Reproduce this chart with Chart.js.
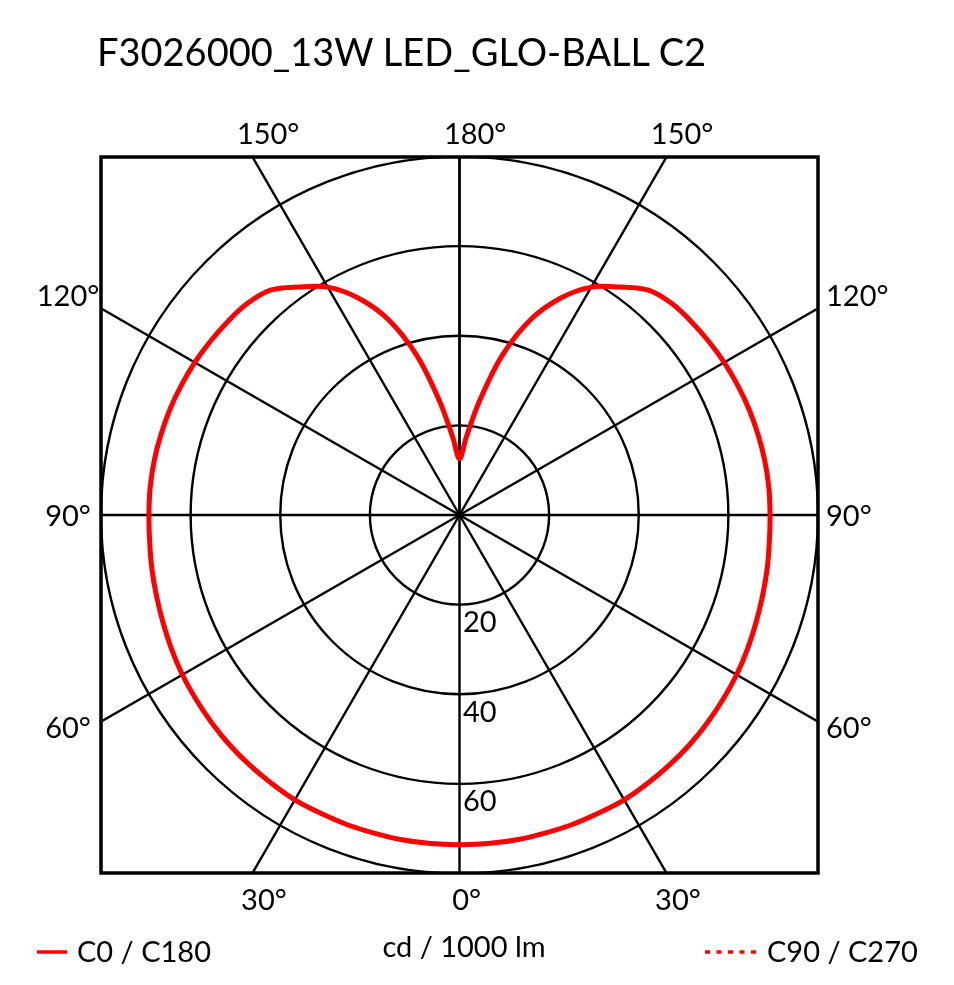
<!DOCTYPE html>
<html>
<head>
<meta charset="utf-8">
<script src="https://cdn.jsdelivr.net/npm/chart.js@4.4.1/dist/chart.umd.min.js"></script>
<style>
  html, body { margin: 0; padding: 0; background: #fff; }
  #wrap { position: relative; width: 954px; height: 985px; font-family: Lato, "Noto Sans", sans-serif; color: #000; }
  #chart { position: absolute; left: 0; top: 0; }
  .txt { position: absolute; white-space: nowrap; line-height: 1; }
</style>
</head>
<body>
<div id="wrap">
  <canvas id="chart" width="954" height="985"></canvas>
  <div class="txt" id="title" style="left:97px; top:32px; font-size:38px;">F3026000_13W LED_GLO-BALL C2</div>
  <div class="txt" style="left:77px; top:936px; font-size:29px;">C0 / C180</div>
  <div class="txt" style="left:464px; top:931px; font-size:29px; transform:translateX(-50%);">cd / 1000 lm</div>
  <div class="txt" style="left:767px; top:936px; font-size:29px;">C90 / C270</div>
</div>
<script>
// ── DATA ─────────────────────────────────────────────────────
// gamma angles (deg, 0 = straight down) and intensities in cd/1000 lm
const gamma = [0, 5, 10, 15, 20, 25, 30, 35, 40, 45, 50, 55, 60, 65, 70, 75, 80, 85, 90,
               95, 100, 105, 110, 115, 120, 125, 130, 135, 140, 145, 150, 155, 160, 165, 170, 175, 180];
const c0   = [73.7, 73.7, 73.7, 73.6, 73.6, 73.5, 73.5, 73.2, 72.9, 72.6, 72.2, 71.8, 71.4, 70.9, 70.4, 70.0, 69.7, 69.4, 69.3,
              69.3, 69.2, 69.0, 68.8, 68.5, 68.2, 67.8, 67.4, 66.9, 65.6, 62.2, 58.8, 53.5, 46.5, 37.0, 26.0, 17.5, 12.6];
const c180 = [73.7, 73.7, 73.7, 73.6, 73.6, 73.5, 73.5, 73.2, 72.9, 72.6, 72.2, 71.8, 71.4, 70.9, 70.4, 70.0, 69.7, 69.4, 69.3,
              69.3, 69.2, 69.0, 68.8, 68.5, 68.2, 67.8, 67.4, 66.9, 65.6, 62.2, 58.8, 53.5, 46.5, 37.0, 26.0, 17.5, 12.6];
// C90 / C270 lies under the C0 / C180 curve in the picture
const c90  = c0.slice();
const c270 = c180.slice();

const ringValues  = [20, 40, 60, 80];
const ringLabels  = ['20', '40', '60'];
const spokeAngles = [0, 30, 60, 90, 120, 150, 180];
const RANGE = 80;

const RED = '#ff0000';

// ── polar -> cartesian (right half = first plane, left half = opposite plane) ──
function planePoints(right, left) {
  const pts = [];
  const rad = d => d * Math.PI / 180;
  for (let i = 0; i < gamma.length; i++) {
    pts.push({ x: right[i] * Math.sin(rad(gamma[i])), y: -right[i] * Math.cos(rad(gamma[i])) });
  }
  for (let i = gamma.length - 2; i >= 0; i--) {
    pts.push({ x: -left[i] * Math.sin(rad(gamma[i])), y: -left[i] * Math.cos(rad(gamma[i])) });
  }
  return pts;
}

// ── polar grid, frame and angle labels ──────────────────────
const polarGrid = {
  id: 'polarGrid',
  beforeDatasetsDraw(chart) {
    const { ctx, chartArea: a, scales: { x, y } } = chart;
    const cx = x.getPixelForValue(0), cy = y.getPixelForValue(0);
    ctx.save();
    ctx.beginPath();
    ctx.rect(a.left, a.top, a.right - a.left, a.bottom - a.top);
    ctx.clip();
    ctx.strokeStyle = '#000';
    ctx.lineWidth = 2.4;

    ringValues.forEach(v => {
      const r = x.getPixelForValue(v) - cx;
      ctx.beginPath();
      ctx.arc(cx, cy, r, 0, Math.PI * 2);
      ctx.stroke();
    });

    const seen = new Set();
    spokeAngles.forEach(g => {
      [1, -1].forEach(side => {
        const px = x.getPixelForValue(side * 300 * Math.sin(g * Math.PI / 180));
        const py = y.getPixelForValue(-300 * Math.cos(g * Math.PI / 180));
        const key = Math.round(px) + ',' + Math.round(py);
        if (seen.has(key)) return;
        seen.add(key);
        ctx.beginPath();
        ctx.moveTo(cx, cy);
        ctx.lineTo(px, py);
        ctx.stroke();
      });
    });
    ctx.restore();

    // ring values
    ctx.save();
    ctx.fillStyle = '#000';
    ctx.font = '29px Lato';
    ctx.textAlign = 'left';
    ctx.textBaseline = 'alphabetic';
    ringLabels.forEach((t, i) => {
      const py = y.getPixelForValue(-ringValues[i]);
      ctx.fillText(t, cx + 3.5, py + 27.5);
    });
    ctx.restore();
  },
  afterDraw(chart) {
    const { ctx, chartArea: a, scales: { x, y } } = chart;
    const cx = x.getPixelForValue(0), cy = y.getPixelForValue(0);

    // frame
    ctx.save();
    ctx.strokeStyle = '#000';
    ctx.lineWidth = 3.5;
    ctx.strokeRect(a.left, a.top, a.right - a.left, a.bottom - a.top);

    // angle labels where the spokes hit the frame
    ctx.fillStyle = '#000';
    ctx.font = '29px Lato';
    ctx.textBaseline = 'alphabetic';
    const done = new Set();
    spokeAngles.forEach(g => {
      [1, -1].forEach(side => {
        const dx = x.getPixelForValue(side * Math.sin(g * Math.PI / 180)) - cx;
        const dy = y.getPixelForValue(-Math.cos(g * Math.PI / 180)) - cy;
        let t = Infinity, edge = '';
        if (dx > 1e-6)  { const tt = (a.right - cx) / dx;  if (tt < t) { t = tt; edge = 'right'; } }
        if (dx < -1e-6) { const tt = (a.left - cx) / dx;   if (tt < t) { t = tt; edge = 'left'; } }
        if (dy > 1e-6)  { const tt = (a.bottom - cy) / dy; if (tt < t) { t = tt; edge = 'bottom'; } }
        if (dy < -1e-6) { const tt = (a.top - cy) / dy;    if (tt < t) { t = tt; edge = 'top'; } }
        const ix = cx + dx * t, iy = cy + dy * t;
        const key = Math.round(ix) + ',' + Math.round(iy);
        if (done.has(key)) return;
        done.add(key);
        const label = g + '°';
        const w = ctx.measureText(label).width;
        let lx, ly;
        if (edge === 'top')    { lx = ix - 0.25 * w; ly = a.top - 13; }
        if (edge === 'bottom') { lx = ix - 0.25 * w; ly = a.bottom + 37; }
        if (edge === 'left' || edge === 'right') {
          lx = edge === 'left' ? a.left - 33 - w / 2 : a.right + 8;
          ly = g > 90 ? iy - 2 : (g === 90 ? iy + 11 : iy + 16);
        }
        ctx.textAlign = 'left';
        ctx.fillText(label, lx, ly);
      });
    });

    // legend samples
    ctx.lineWidth = 3.5;
    ctx.strokeStyle = RED;
    ctx.beginPath();
    ctx.moveTo(37, 952);
    ctx.lineTo(67, 952);
    ctx.stroke();
    ctx.setLineDash([5, 6.5]);
    ctx.beginPath();
    ctx.moveTo(705, 952);
    ctx.lineTo(762, 952);
    ctx.stroke();
    ctx.restore();
  }
};

new Chart(document.getElementById('chart'), {
  type: 'scatter',
  data: {
    datasets: [
      {
        label: 'C0 / C180',
        data: planePoints(c0, c180),
        showLine: true,
        borderColor: RED,
        borderWidth: 5,
        pointRadius: 0,
        tension: 0.35,
        fill: false
      },
      {
        label: 'C90 / C270',
        data: planePoints(c90, c270),
        showLine: true,
        borderColor: RED,
        borderWidth: 4,
        borderDash: [5, 6.5],
        pointRadius: 0,
        tension: 0.35,
        fill: false
      }
    ]
  },
  options: {
    responsive: false,
    animation: false,
    layout: { padding: { left: 101, right: 136, top: 157, bottom: 112 } },
    scales: {
      x: { type: 'linear', min: -RANGE, max: RANGE, display: false },
      y: { type: 'linear', min: -RANGE, max: RANGE, display: false }
    },
    plugins: { legend: { display: false }, tooltip: { enabled: false } }
  },
  plugins: [polarGrid]
});
</script>
</body>
</html>
